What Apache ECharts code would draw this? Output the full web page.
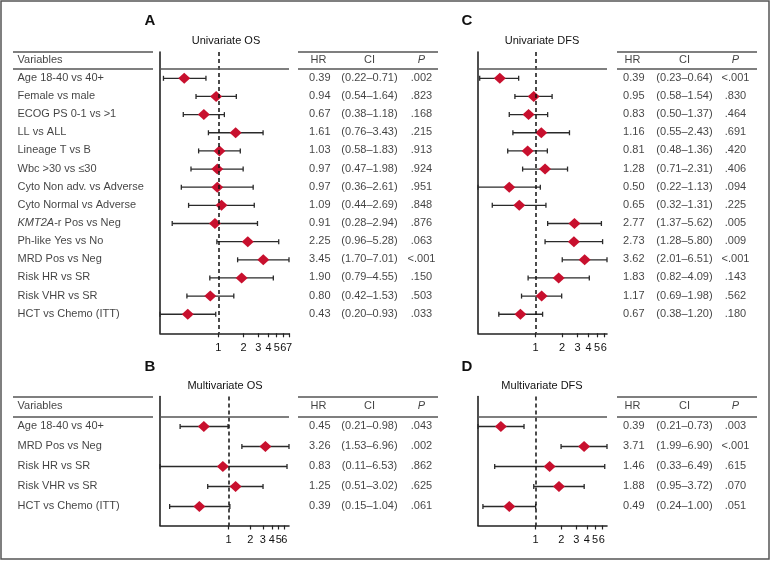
<!DOCTYPE html>
<html><head><meta charset="utf-8">
<script src="https://cdn.jsdelivr.net/npm/echarts@6/dist/echarts.min.js"></script>
<style>html,body{margin:0;padding:0;background:#fff}#c{width:770px;height:561px}</style>
</head><body><div id="c"></div>
<script>
// ---------- data ----------
const uniLabels = ['Age 18-40 vs 40+','Female vs male','ECOG PS 0-1 vs >1','LL vs ALL','Lineage T vs B','Wbc >30 vs ≤30','Cyto Non adv. vs Adverse','Cyto Normal vs Adverse','{i|KMT2A}-r Pos vs Neg','Ph-like Yes vs No','MRD Pos vs Neg','Risk HR vs SR','Risk VHR vs SR','HCT vs Chemo (ITT)'];
const multiLabels = ['Age 18-40 vs 40+','MRD Pos vs Neg','Risk HR vs SR','Risk VHR vs SR','HCT vs Chemo (ITT)'];

const osUniHR = [0.39,0.94,0.67,1.61,1.03,0.97,0.97,1.09,0.91,2.25,3.45,1.90,0.80,0.43];
const osUniLo = [0.22,0.54,0.38,0.76,0.58,0.47,0.36,0.44,0.28,0.96,1.70,0.79,0.42,0.20];
const osUniHi = [0.71,1.64,1.18,3.43,1.83,1.98,2.61,2.69,2.94,5.28,7.01,4.55,1.53,0.93];
const osUniP  = ['.002','.823','.168','.215','.913','.924','.951','.848','.876','.063','<.001','.150','.503','.033'];

const dfsUniHR = [0.39,0.95,0.83,1.16,0.81,1.28,0.50,0.65,2.77,2.73,3.62,1.83,1.17,0.67];
const dfsUniLo = [0.23,0.58,0.50,0.55,0.48,0.71,0.22,0.32,1.37,1.28,2.01,0.82,0.69,0.38];
const dfsUniHi = [0.64,1.54,1.37,2.43,1.36,2.31,1.13,1.31,5.62,5.80,6.51,4.09,1.98,1.20];
const dfsUniP  = ['<.001','.830','.464','.691','.420','.406','.094','.225','.005','.009','<.001','.143','.562','.180'];

const osMultiHR = [0.45,3.26,0.83,1.25,0.39];
const osMultiLo = [0.21,1.53,0.11,0.51,0.15];
const osMultiHi = [0.98,6.96,6.53,3.02,1.04];
const osMultiP  = ['.043','.002','.862','.625','.061'];

const dfsMultiHR = [0.39,3.71,1.46,1.88,0.49];
const dfsMultiLo = [0.21,1.99,0.33,0.95,0.24];
const dfsMultiHi = [0.73,6.90,6.49,3.72,1.00];
const dfsMultiP  = ['.003','<.001','.615','.070','.051'];

const tickLabels = [1,2,3,4,5,6,7];
const panelLetters = ['A','C','B','D'];
const panelTitles = ['Univariate OS','Univariate DFS','Multivariate OS','Multivariate DFS'];

// ---------- layout ----------
const FONT = '"Liberation Sans", Arial, Helvetica, sans-serif';
const TXT = '#111';
const FS = 11;
const RED = '#c8102e';
const RULE = '#555';
const bands = {
  top:    {top: 52,    height: 281.3, min: -1.45, max: 14.05},
  bottom: {top: 396.5, height: 129,   min: -1.5,  max: 4.95}
};
const panels = [
  {hr: osUniHR, lo: osUniLo, hi: osUniHi, p: osUniP, left: 160, band: 'top', labels: uniLabels,
   cols: {hrR: 331, hrH: 319, ci: 370, p: 422}, table: [298, 438], leftTable: [13, 153],
   letter: [150, 21], title: [226, 41]},
  {hr: dfsUniHR, lo: dfsUniLo, hi: dfsUniHi, p: dfsUniP, left: 478, band: 'top', labels: null,
   cols: {hrR: 645, hrH: 633, ci: 685, p: 736}, table: [617, 757], leftTable: null,
   letter: [467, 21], title: [542, 41]},
  {hr: osMultiHR, lo: osMultiLo, hi: osMultiHi, p: osMultiP, left: 160, band: 'bottom', labels: multiLabels,
   cols: {hrR: 331, hrH: 319, ci: 370, p: 422}, table: [298, 438], leftTable: [13, 153],
   letter: [150, 367], title: [225, 386]},
  {hr: dfsMultiHR, lo: dfsMultiLo, hi: dfsMultiHi, p: dfsMultiP, left: 478, band: 'bottom', labels: null,
   cols: {hrR: 645, hrH: 633, ci: 685, p: 736}, table: [617, 757], leftTable: null,
   letter: [467, 367], title: [542, 386]}
];
const PLOT_W = 129;

const grid = [], xAxis = [], yAxis = [], series = [];
const lg = v => Math.log10(v);
const tickLogs = tickLabels.map(lg);
const oddLogs = tickLabels.filter((t, k) => k % 2 === 0).map(lg);
const evenLogs = tickLabels.filter((t, k) => k % 2 === 1).map(lg);
const labelFmt = v => String(Math.round(Math.pow(10, v)));
const tickLabelStyle = {show: true, margin: 9, fontSize: FS, fontFamily: FONT, color: TXT,
  formatter: labelFmt, hideOverlap: false, showMinLabel: true, showMaxLabel: true};

const extraAxes = [];
panels.forEach((P, i) => {
  const b = bands[P.band];
  const xmin = lg(Math.min(...P.lo)), xmax = lg(Math.max(...P.hi));
  grid.push({left: P.left, top: b.top, width: PLOT_W, height: b.height, outerBoundsMode: 'none', containLabel: false});
  xAxis.push({
    gridIndex: i, type: 'value', position: 'bottom', min: xmin, max: xmax,
    axisLine: {show: true, onZero: false, lineStyle: {color: '#222', width: 1.6}},
    axisTick: {show: true, customValues: tickLogs, length: 4, inside: false, lineStyle: {color: '#222', width: 1.2}},
    axisLabel: Object.assign({customValues: oddLogs}, tickLabelStyle),
    splitLine: {show: false}
  });
  // second label-only axis so that the closely spaced labels are not dropped
  extraAxes.push({
    gridIndex: i, type: 'value', position: 'bottom', offset: 0, min: xmin, max: xmax,
    axisLine: {show: false, onZero: false}, axisTick: {show: false},
    axisLabel: Object.assign({customValues: evenLogs}, tickLabelStyle),
    splitLine: {show: false}
  });
  yAxis.push({
    gridIndex: i, type: 'value', inverse: true, min: b.min, max: b.max,
    axisLine: {show: true, onZero: false, lineStyle: {color: '#222', width: 1.6}},
    axisTick: {show: false}, axisLabel: {show: false}, splitLine: {show: false}
  });
  // reference lines
  series.push({
    type: 'scatter', xAxisIndex: i, yAxisIndex: i, data: [], z: 1, silent: true,
    markLine: {
      silent: true, symbol: ['none', 'none'], label: {show: false}, animation: false,
      data: [
        {xAxis: 0, lineStyle: {type: [4, 3], color: '#111', width: 1.5}},
        {yAxis: -0.5, lineStyle: {type: 'solid', color: RULE, width: 1.5}}
      ]
    }
  });
  // error bars
  series.push({
    type: 'custom', xAxisIndex: i, yAxisIndex: i, z: 2, silent: true,
    encode: {x: [0, 1], y: 2},
    data: P.lo.map((l, k) => [lg(l), lg(P.hi[k]), k]),
    renderItem: (params, api) => {
      const a = api.coord([api.value(0), api.value(2)]);
      const c = api.coord([api.value(1), api.value(2)]);
      const st = {stroke: '#2a2a2a', lineWidth: 1.3};
      return {type: 'group', children: [
        {type: 'line', shape: {x1: a[0], y1: a[1], x2: c[0], y2: c[1]}, style: st},
        {type: 'line', shape: {x1: a[0], y1: a[1] - 2.5, x2: a[0], y2: a[1] + 2.5}, style: st},
        {type: 'line', shape: {x1: c[0], y1: c[1] - 2.5, x2: c[0], y2: c[1] + 2.5}, style: st}
      ]};
    }
  });
  // point estimates
  series.push({
    type: 'scatter', xAxisIndex: i, yAxisIndex: i, z: 3, silent: true,
    symbol: 'diamond', symbolSize: [12, 11], itemStyle: {color: RED, opacity: 1},
    data: P.hr.map((h, k) => [lg(h), k])
  });
});

// text grids (pixel-like x axis, same row mapping as plots)
['top', 'bottom'].forEach((bn, j) => {
  const b = bands[bn];
  grid.push({left: 0, top: b.top, width: 770, height: b.height, outerBoundsMode: 'none', containLabel: false});
  xAxis.push({gridIndex: 4 + j, type: 'value', min: 0, max: 770, show: false});
  yAxis.push({gridIndex: 4 + j, type: 'value', inverse: true, min: b.min, max: b.max, show: false});
});
extraAxes.forEach(a => xAxis.push(a));

function textSeries(gi, items, align, extraLabel) {
  return {
    type: 'scatter', xAxisIndex: gi, yAxisIndex: gi, silent: true, z: 5,
    symbol: 'circle', symbolSize: 1, itemStyle: {color: 'rgba(0,0,0,0)'},
    clip: false,
    data: items.map(it => ({name: it[2], value: [it[0], it[1]]})),
    label: Object.assign({
      show: true, position: [0, 0], align: align, verticalAlign: 'middle',
      formatter: p => p.name, fontSize: FS, fontFamily: FONT, color: TXT,
      rich: {i: {fontStyle: 'italic', fontSize: FS, fontFamily: FONT, color: TXT}}
    }, extraLabel || {})
  };
}

const ruleData = [[], []];
panels.forEach((P, i) => {
  const gi = P.band === 'top' ? 4 : 5;
  const b = bands[P.band];
  const c = P.cols;
  if (P.labels) {
    series.push(textSeries(gi, [[18, -1, 'Variables']].concat(P.labels.map((t, k) => [18, k, t])), 'left'));
  }
  series.push(textSeries(gi, [[c.hrH, -1, 'HR']], 'center'));
  series.push(textSeries(gi, [[c.ci, -1, 'CI']], 'center'));
  series.push(textSeries(gi, [[c.p, -1, 'P']], 'center', {fontStyle: 'italic'}));
  series.push(textSeries(gi, P.hr.map((h, k) => [c.hrR, k, h.toFixed(2)]), 'right'));
  series.push(textSeries(gi, P.lo.map((l, k) => [c.ci, k, '(' + l.toFixed(2) + '–' + P.hi[k].toFixed(2) + ')']), 'center'));
  series.push(textSeries(gi, P.p.map((p, k) => [c.p, k, p]), 'center'));
  const rd = ruleData[gi - 4];
  [b.min, -0.5].forEach(y => {
    rd.push({coords: [[P.table[0], y], [P.table[1], y]]});
    if (P.leftTable) rd.push({coords: [[P.leftTable[0], y], [P.leftTable[1], y]]});
  });
});
ruleData.forEach((rd, j) => {
  series.push({
    type: 'lines', coordinateSystem: 'cartesian2d', xAxisIndex: 4 + j, yAxisIndex: 4 + j,
    silent: true, z: 4, clip: false, symbol: ['none', 'none'],
    lineStyle: {color: RULE, width: 1.5, opacity: 1, curveness: 0},
    data: rd
  });
});

const graphic = [
  {type: 'rect', shape: {x: 1, y: 1, width: 768, height: 558}, style: {fill: 'none', stroke: '#555', lineWidth: 1.5}, silent: true}
];
panels.forEach((P, i) => {
  graphic.push({type: 'text', x: P.letter[0], y: P.letter[1], silent: true,
    style: {text: panelLetters[i], font: 'bold 15px ' + FONT, fill: '#111', align: 'center', verticalAlign: 'middle', textAlign: 'center', textVerticalAlign: 'middle'}});
  graphic.push({type: 'text', x: P.title[0], y: P.title[1], silent: true,
    style: {text: panelTitles[i], font: FS + 'px ' + FONT, fill: TXT, align: 'center', verticalAlign: 'middle', textAlign: 'center', textVerticalAlign: 'middle'}});
});

const chart = echarts.init(document.getElementById('c'), null, {renderer: 'canvas'});
chart.setOption({
  backgroundColor: '#fff',
  animation: false,
  grid, xAxis, yAxis, series, graphic
});
</script>
</body></html>
